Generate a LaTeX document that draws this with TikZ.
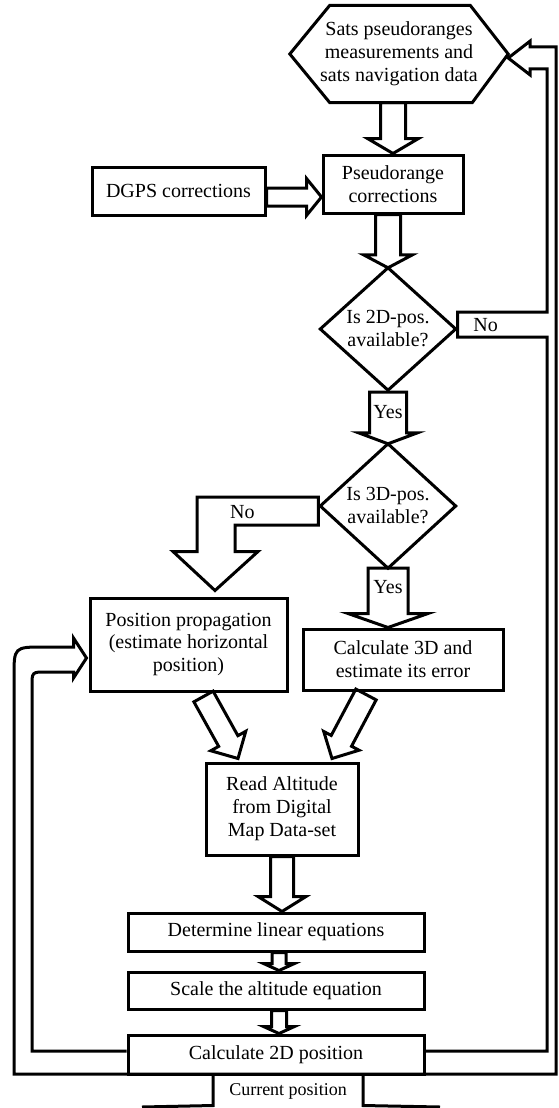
\documentclass[tikz,border=0pt]{standalone}
\usepackage{fontspec}
\setmainfont{Liberation Serif}
\usetikzlibrary{calc}
\tikzset{
  base/.style={font=\fontsize{20}{23}\selectfont, align=center, inner sep=0pt},
  box/.style={base, draw, line width=3pt, rectangle},
  ghost/.style={base},
  arrowline/.style={line width=3pt, line join=miter},
  lbl/.style={font=\fontsize{20}{23}\selectfont, inner sep=0pt},
}
% block arrow: #1 start, #2 tip, #3 shaft half width, #4 head half width, #5 head length
\newcommand{\blockarrow}[5]{%
  \path #1 coordinate (ba-s) #2 coordinate (ba-t);
  \coordinate (ba-b) at ($(ba-t)!#5!(ba-s)$);
  \draw[arrowline] ($(ba-s)!#3!90:(ba-t)$) -- ($(ba-b)!#3!90:(ba-t)$)
    -- ($(ba-b)!#4!90:(ba-t)$) -- (ba-t) -- ($(ba-b)!#4!-90:(ba-t)$)
    -- ($(ba-b)!#3!-90:(ba-t)$) -- ($(ba-s)!#3!-90:(ba-t)$) -- cycle;
}
\begin{document}
\begin{tikzpicture}[x=1pt,y=-1pt]
\useasboundingbox (0,0) rectangle (558,1108);

% nodes
\node[ghost, minimum width=218pt, minimum height=97pt] (hex) at (399,54)
  {Sats pseudoranges\\measurements and\\sats navigation data};
\draw[arrowline] ($(hex.north west)+(40,0)$) -- ($(hex.north east)+(-38,0)$) -- (hex.east)
  -- ($(hex.south east)+(-36,0)$) -- ($(hex.south west)+(40,0)$) -- (hex.west) -- cycle;

\node[box, minimum width=173pt, minimum height=48pt] (dgps) at (178.5,191) {DGPS corrections};
\node[box, minimum width=140pt, minimum height=58pt] (pr) at (393,184) {Pseudorange\\corrections};

\node[ghost, minimum width=135pt, minimum height=122pt] (d2) at (388,329) {Is 2D-pos.\\available?};
\draw[arrowline] (d2.north) -- (d2.east) -- (d2.south) -- (d2.west) -- cycle;

\node[ghost, minimum width=135pt, minimum height=124pt] (d3) at (388,506) {Is 3D-pos.\\available?};
\draw[arrowline] (d3.north) -- (d3.east) -- (d3.south) -- (d3.west) -- cycle;

\node[box, minimum width=197pt, minimum height=93pt] (prop) at (188.5,644.5)
  {Position propagation\\(estimate horizontal\\position)};
\node[box, minimum width=200pt, minimum height=61pt] (c3) at (403,659.5)
  {Calculate 3D and\\estimate its error};
\node[box, minimum width=152pt, minimum height=92pt] (ra) at (282,809)
  {Read Altitude\\from Digital\\Map Data-set};
\node[box, minimum width=296pt, minimum height=38pt] (det) at (276,932) {Determine linear equations};
\node[box, minimum width=296pt, minimum height=37pt] (sc) at (276,990.5) {Scale the altitude equation};
\node[box, minimum width=296pt, minimum height=39pt] (c2) at (276,1054.5) {Calculate 2D position};
\node[inner sep=0pt, font=\fontsize{18}{21}\selectfont] (cur) at ($(c2.south)+(12,16)$) {Current position};

% block arrows
\blockarrow{(pr.north |- hex.south)}{(pr.north)}{12.5pt}{25.5pt}{15pt}
\coordinate (dg) at ($(dgps.east)+(0,6)$);
\blockarrow{(dg)}{(dg -| pr.west)}{9pt}{18.5pt}{15pt}
\blockarrow{(d2.north |- pr.south)}{(d2.north)}{12.5pt}{24.5pt}{13pt}
\blockarrow{($(d2.south)+(0,2)$)}{(d3.north)}{18.5pt}{29.5pt}{11pt}
\blockarrow{(d3.south)}{(d3.south |- c3.north)}{20pt}{40pt}{14pt}
\blockarrow{($(prop.south)+(15,4)$)}{($(ra.north)+(-44,-3)$)}{11pt}{20pt}{20pt}
\blockarrow{($(c3.south)+(-37,3)$)}{($(ra.north)+(50,-3)$)}{11.5pt}{20pt}{20pt}
\blockarrow{(ra.south)}{(ra.south |- det.north)}{11.5pt}{24pt}{15pt}
\blockarrow{($(det.south)+(3,0)$)}{($(sc.north)+(3,0)$)}{7pt}{15.5pt}{7pt}
\blockarrow{($(sc.south)+(3,0)$)}{($(c2.north)+(3,0)$)}{7.5pt}{15.5pt}{7pt}

\node[lbl] (yes1) at ($(d2.south)+(0,22)$) {Yes};
\node[lbl] (yes2) at ($(d3.south)+(0,19)$) {Yes};

% "No" bent arrow from 3D diamond to position propagation
\coordinate (nb) at ($(prop.north)+(26.5,-6)$);
\draw[arrowline] ($(d3.west)+(-2,-9)$) -| ($(nb)+(-18,-39)$) -- ($(nb)+(-42,-39)$) -- (nb)
  -- ($(nb)+(43,-39)$) -- ($(nb)+(20,-39)$) |- ($(d3.west)+(-2,19)$) -- cycle;
\node[lbl] (no3) at ($(d3.west)+(-78,6)$) {No};

% feedback channels
\coordinate (ri) at ($(c2.east)+(0,-3.5)$);
\coordinate (li) at ($(c2.west)+(0,-3.5)$);
\coordinate (ft) at ($(hex.east)+(0,4)$);
\coordinate (lt) at ($(prop.west)+(-2,13.5)$);
\draw[arrowline] (ri) -- (547,1051) -- (547,337) -- ($(d2.east)+(2,8)$) -- ($(d2.east)+(2,-17)$)
  -- (547,312) -- (547,69) -- ($(ft)+(22,11)$) -- ($(ft)+(22,17)$) -- (ft)
  -- ($(ft)+(22,-17)$) -- ($(ft)+(22,-11)$) -- (556,47) -- (556,1074) -- (14,1074)
  -- (14,677) .. controls (14,647) .. (44,647) -- ($(lt)+(-13,-11)$) -- ($(lt)+(-13,-20)$)
  -- (lt) -- ($(lt)+(-13,20)$) -- ($(lt)+(-13,14)$) -- (46,672)
  .. controls (32,672) .. (32,686) -- (32,1051) -- (li);
\node[lbl] (no2) at ($(d2.east)+(30,-4)$) {No};

% current position outlet
\draw[arrowline] ($(c2.south)+(-63,0)$) -- ++(0,30) -- ++(-71,1.5);
\draw[arrowline] ($(c2.south)+(87,0)$) -- ++(0,30) -- ++(77,1.5);
\end{tikzpicture}
\end{document}
